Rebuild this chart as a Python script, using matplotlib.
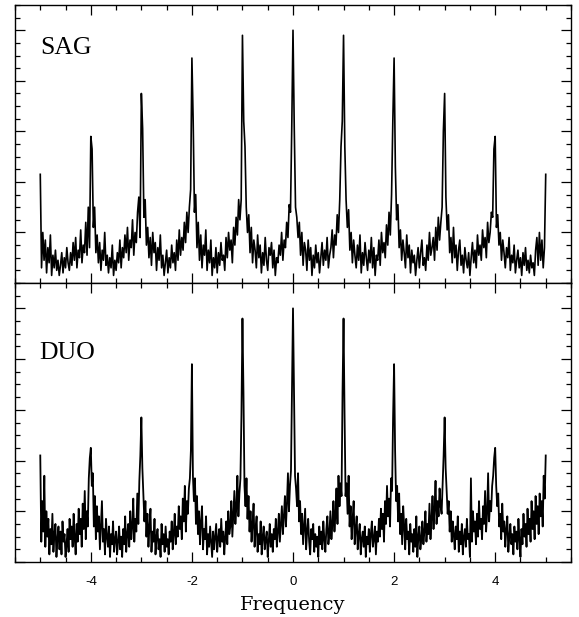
import numpy as np
import matplotlib
matplotlib.use("Agg")
import matplotlib.pyplot as plt
from matplotlib.ticker import MultipleLocator, NullFormatter

# frequency grid ends and step for each panel
sag_start, sag_step = -5.0, 0.025
duo_start, duo_step = -5.0, 0.02

# SAG power (x100), one list per unit interval
sag_m5 = [43, 6, 20, 9, 17, 4, 14, 8, 19, 3, 11, 6, 13, 5, 9, 3, 7, 12, 4, 10,
          6, 14, 8, 5, 12, 7, 16, 9, 18, 6, 13, 10, 21, 8, 15, 12, 24, 11, 30, 14]
sag_m4 = [58, 53, 22, 30, 12, 19, 8, 16, 5, 13, 9, 20, 7, 11, 4, 10, 6, 15, 3, 9,
          5, 12, 8, 17, 6, 14, 10, 19, 12, 22, 9, 17, 14, 25, 11, 20, 16, 28, 34, 18]
sag_m3 = [75, 61, 26, 33, 15, 22, 10, 18, 7, 20, 12, 16, 5, 14, 9, 19, 6, 11, 3, 8,
          13, 4, 10, 6, 15, 8, 12, 5, 17, 9, 21, 11, 18, 13, 24, 16, 28, 20, 30, 37]
sag_m2 = [89, 64, 28, 35, 14, 24, 9, 19, 6, 15, 11, 21, 5, 13, 8, 17, 3, 10, 6, 14,
          4, 12, 7, 16, 9, 11, 5, 18, 10, 20, 13, 17, 8, 22, 15, 26, 19, 33, 25, 33]
sag_m1 = [98, 64, 54, 30, 20, 27, 12, 22, 8, 17, 13, 6, 19, 10, 15, 4, 12, 7, 18, 9,
          5, 14, 11, 16, 6, 13, 3, 10, 8, 15, 11, 20, 9, 17, 14, 24, 18, 31, 28, 61]
sag_p0 = [100, 61, 30, 26, 18, 24, 11, 20, 7, 16, 13, 5, 17, 9, 14, 3, 11, 6, 15, 8,
          12, 4, 10, 16, 7, 13, 9, 18, 6, 11, 14, 21, 10, 19, 15, 27, 20, 33, 54, 64]
sag_p1 = [98, 54, 33, 22, 29, 13, 20, 8, 17, 11, 6, 15, 9, 19, 4, 12, 7, 16, 10, 5,
          13, 8, 18, 6, 14, 3, 11, 9, 17, 7, 20, 12, 16, 10, 23, 15, 28, 19, 35, 64]
sag_p2 = [89, 46, 25, 31, 14, 21, 9, 17, 12, 6, 19, 10, 15, 4, 13, 8, 11, 3, 9, 14,
          6, 12, 17, 7, 10, 5, 15, 9, 20, 11, 14, 18, 9, 22, 13, 26, 17, 24, 30, 60]
sag_p3 = [75, 34, 21, 27, 12, 18, 8, 22, 10, 15, 5, 13, 17, 7, 11, 4, 14, 9, 6, 12,
          3, 10, 16, 8, 13, 6, 19, 11, 15, 9, 21, 14, 18, 10, 24, 16, 20, 28, 26, 53]
sag_p4 = [58, 22, 27, 15, 20, 9, 17, 12, 6, 14, 10, 18, 5, 11, 8, 15, 4, 9, 13, 6,
          10, 3, 12, 7, 14, 5, 9, 4, 11, 6, 8, 3, 13, 18, 7, 20, 9, 17, 6, 14]
sag_end = [43]

# DUO power (x100)
duo_m5 = [42, 8, 24, 12, 34, 6, 20, 10, 17, 3, 13, 7, 19, 4, 11, 15, 2, 9, 14, 5,
          12, 3, 16, 8, 11, 2, 7, 13, 4, 17, 9, 14, 6, 19, 10, 3, 15, 8, 21, 11,
          17, 6, 23, 13, 28, 9, 20, 14, 33, 41]
duo_m4 = [45, 30, 35, 14, 26, 9, 22, 12, 18, 5, 15, 24, 8, 13, 3, 17, 10, 6, 14, 2,
          11, 7, 16, 4, 9, 12, 3, 8, 14, 5, 10, 2, 13, 7, 18, 4, 11, 15, 6, 20,
          9, 14, 25, 8, 17, 12, 27, 15, 32, 42]
duo_m3 = [57, 37, 27, 16, 24, 10, 19, 6, 14, 21, 4, 12, 8, 17, 3, 10, 13, 5, 9, 2,
          15, 7, 11, 4, 14, 6, 9, 3, 12, 8, 16, 5, 11, 19, 7, 14, 10, 22, 13, 18,
          9, 25, 16, 30, 12, 24, 19, 29, 33, 44]
duo_m2 = [78, 34, 24, 33, 15, 26, 11, 20, 7, 16, 22, 5, 13, 9, 18, 3, 11, 6, 14, 8,
          2, 12, 5, 10, 15, 4, 9, 13, 6, 17, 8, 12, 3, 10, 16, 7, 20, 11, 14, 24,
          10, 19, 28, 15, 22, 34, 18, 27, 33, 58]
duo_m1 = [96, 67, 30, 22, 33, 17, 26, 12, 20, 8, 15, 23, 6, 13, 18, 4, 11, 7, 16, 3,
          10, 14, 5, 9, 12, 2, 8, 15, 6, 11, 4, 13, 9, 17, 6, 12, 19, 8, 15, 22,
          11, 18, 26, 14, 23, 35, 20, 30, 36, 67]
duo_p0 = [100, 67, 34, 29, 22, 35, 16, 24, 11, 19, 7, 14, 21, 5, 12, 17, 8, 3, 13, 9,
          15, 4, 11, 6, 10, 2, 14, 7, 12, 5, 16, 9, 4, 13, 18, 7, 11, 20, 9, 15,
          24, 12, 19, 29, 15, 34, 22, 31, 26, 67]
duo_p1 = [96, 58, 26, 31, 19, 34, 14, 22, 9, 17, 24, 7, 13, 18, 5, 11, 15, 3, 9, 12,
          6, 14, 2, 10, 7, 13, 4, 11, 16, 6, 9, 14, 3, 12, 8, 17, 10, 21, 13, 19,
          8, 24, 15, 30, 18, 25, 14, 33, 28, 57]
duo_p2 = [78, 44, 24, 30, 16, 27, 11, 19, 7, 22, 14, 5, 17, 9, 12, 3, 15, 8, 11, 4,
          13, 6, 18, 2, 10, 14, 5, 9, 16, 7, 12, 20, 8, 15, 11, 23, 9, 17, 26, 13,
          21, 32, 15, 24, 18, 29, 22, 19, 31, 42]
duo_p3 = [57, 37, 28, 19, 24, 12, 20, 8, 16, 11, 5, 14, 9, 18, 4, 12, 7, 15, 3, 10,
          13, 6, 17, 9, 11, 2, 33, 8, 20, 12, 16, 7, 19, 10, 24, 13, 17, 9, 22, 15,
          28, 12, 19, 35, 16, 24, 20, 30, 34, 41]
duo_p4 = [45, 30, 22, 27, 14, 19, 9, 23, 12, 16, 6, 13, 18, 4, 10, 15, 7, 11, 3, 14,
          8, 12, 5, 17, 9, 2, 13, 7, 19, 10, 15, 6, 21, 11, 17, 8, 24, 13, 20, 9,
          26, 15, 22, 11, 27, 18, 24, 14, 34, 25]
duo_end = [42]

panel_labels = ["SAG", "DUO"]
xtick_values = [-4, -2, 0, 2, 4]


def build(parts, start, step):
    y = np.concatenate([np.array(p, dtype=float) for p in parts]) / 100.0
    x = start + step * np.arange(len(y))
    return x, y


def style_axes(ax):
    ax.set_xlim(-5.5, 5.5)
    ax.set_ylim(0, 1.1)
    ax.xaxis.set_major_locator(MultipleLocator(2))
    ax.xaxis.set_minor_locator(MultipleLocator(0.5))
    ax.yaxis.set_major_locator(MultipleLocator(0.2))
    ax.yaxis.set_minor_locator(MultipleLocator(0.05))
    ax.yaxis.set_major_formatter(NullFormatter())
    ax.tick_params(which="both", direction="in", top=True, right=True,
                   width=0.9, color="black")
    ax.tick_params(which="major", length=7)
    ax.tick_params(which="minor", length=3.6)
    for s in ax.spines.values():
        s.set_linewidth(1.0)


def main():
    sag_x, sag_y = build([sag_m5, sag_m4, sag_m3, sag_m2, sag_m1, sag_p0,
                          sag_p1, sag_p2, sag_p3, sag_p4, sag_end], sag_start, sag_step)
    duo_x, duo_y = build([duo_m5, duo_m4, duo_m3, duo_m2, duo_m1, duo_p0,
                          duo_p1, duo_p2, duo_p3, duo_p4, duo_end], duo_start, duo_step)

    fig = plt.figure(figsize=(5.79, 6.17), dpi=100)
    left, width = 15 / 579, 556 / 579
    ax1 = fig.add_axes([left, 334 / 617, width, 278 / 617])
    ax2 = fig.add_axes([left, 55 / 617, width, 279 / 617])

    ax1.plot(sag_x, sag_y, color="black", lw=1.2)
    ax2.plot(duo_x, duo_y, color="black", lw=1.3)

    for ax in (ax1, ax2):
        style_axes(ax)

    ax1.xaxis.set_major_formatter(NullFormatter())
    ax2.set_xticks(xtick_values)
    ax2.set_xticklabels([str(v) for v in xtick_values],
                        fontsize=9.5, family="Liberation Sans")
    ax2.tick_params(axis="x", which="major", pad=10)

    ax1.text(-5.01, 0.905, panel_labels[0], family="Liberation Serif",
             fontsize=18.5, ha="left", va="baseline")
    ax2.text(-5.01, 0.80, panel_labels[1], family="Liberation Serif",
             fontsize=18.5, ha="left", va="baseline")

    ax2.set_xlabel("Frequency", family="DejaVu Serif", fontsize=14, labelpad=6)

    fig.savefig("out.png", dpi=100)


if __name__ == "__main__":
    main()
